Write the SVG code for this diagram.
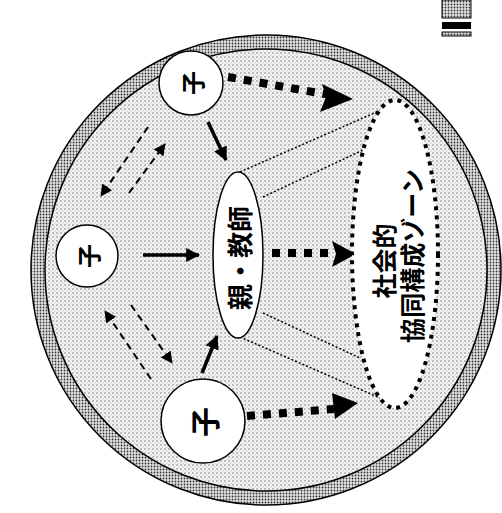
<svg xmlns="http://www.w3.org/2000/svg" width="502" height="513" viewBox="0 0 502 513">
<style>
.ctext{font-family:"Noto Sans CJK JP","Noto Sans CJK SC",sans-serif;font-weight:700;fill:#000;text-anchor:middle;dominant-baseline:central}
.thick{fill:none;stroke:#000;stroke-width:8;stroke-dasharray:8 8}
.solid{fill:none;stroke:#000;stroke-width:3.5}
.dash{fill:none;stroke:#000;stroke-width:2;stroke-dasharray:7 5}
.cone{fill:none;stroke:#000;stroke-width:1.5;stroke-dasharray:2 2}
.node{fill:#fff;stroke:#000;stroke-width:1.5}
</style>
<defs>
<pattern id="lightDots" width="4" height="4" patternUnits="userSpaceOnUse">
<rect width="4" height="4" fill="#f4f4f4"/>
<circle cx="1" cy="1" r="0.8" fill="#777"/>
<circle cx="3" cy="3" r="0.6" fill="#aaa"/>
</pattern>
<pattern id="darkDots" width="3" height="3" patternUnits="userSpaceOnUse">
<rect width="3" height="3" fill="#e2e2e2"/>
<circle cx="1.5" cy="1.5" r="0.9" fill="#333"/>
</pattern>
<marker id="solidHead" viewBox="0 0 12 12" refX="11" refY="6" markerWidth="14" markerHeight="14" markerUnits="userSpaceOnUse" orient="auto">
<path d="M0,0 L12,6 L0,12 Z" fill="#000"/>
</marker>
<marker id="dashHead" viewBox="0 0 12 12" refX="11" refY="6" markerWidth="12" markerHeight="12" markerUnits="userSpaceOnUse" orient="auto">
<path d="M0,0 L12,6 L0,12 Z" fill="#000"/>
</marker>
</defs>
<rect width="502" height="513" fill="#fff"/>
<g id="legend">
<rect x="442" y="0" width="29" height="18" fill="url(#darkDots)" stroke="#000" stroke-width="1"/>
<rect x="442" y="22" width="29" height="7" fill="#000"/>
<rect x="442" y="32" width="29" height="4" fill="url(#darkDots)" stroke="#000" stroke-width="1"/>
</g>
<g id="background">
<circle cx="266" cy="270" r="235" fill="url(#darkDots)" stroke="#000" stroke-width="1.5"/>
<circle cx="266" cy="270" r="221" fill="url(#lightDots)" stroke="#000" stroke-width="1.5"/>
</g>
<g id="connectors">
<line class="cone" x1="240" y1="172" x2="397" y2="103"/>
<line class="cone" x1="263" y1="197" x2="363" y2="150"/>
<line class="cone" x1="263" y1="313" x2="360" y2="358"/>
<line class="cone" x1="240" y1="337" x2="380" y2="398"/>
<line class="thick" x1="228" y1="77" x2="330" y2="95"/>
<path d="M322,84 L353,99 L320,112 L326,97 Z" fill="#000"/>
<line class="thick" x1="272" y1="253" x2="334" y2="253"/>
<path d="M332,241 L356,254 L332,267 L336,254 Z" fill="#000"/>
<line class="thick" x1="247" y1="416" x2="334" y2="409"/>
<path d="M332,393 L358,403 L335,419 Z" fill="#000"/>
<line class="solid" x1="208" y1="122" x2="226" y2="160" marker-end="url(#solidHead)"/>
<line class="solid" x1="143" y1="255" x2="199" y2="255" marker-end="url(#solidHead)"/>
<line class="solid" x1="202" y1="373" x2="217" y2="336" marker-end="url(#solidHead)"/>
<line class="dash" x1="148" y1="127" x2="101" y2="196" marker-end="url(#dashHead)"/>
<line class="dash" x1="129" y1="193" x2="165" y2="144" marker-end="url(#dashHead)"/>
<line class="dash" x1="151" y1="379" x2="105" y2="311" marker-end="url(#dashHead)"/>
<line class="dash" x1="131" y1="305" x2="172" y2="363" marker-end="url(#dashHead)"/>
</g>
<g id="zone">
<ellipse cx="395" cy="254" rx="43" ry="154" fill="#fff" stroke="#000" stroke-width="4" stroke-dasharray="4 5"/>
<text class="ctext" font-size="25" transform="translate(383,261) rotate(-90)">社会的</text>
<text class="ctext" font-size="25" transform="translate(411,256) rotate(-90)">協同構成ゾーン</text>
</g>
<g id="parent">
<ellipse cx="238" cy="255" rx="25" ry="83" class="node" stroke-width="2"/>
<text class="ctext" font-size="26" transform="translate(238,258) rotate(-90)">親・教師</text>
</g>
<g id="childTop">
<circle cx="191" cy="83" r="32" class="node"/>
<text class="ctext" font-size="24" transform="translate(191,83) rotate(-90)">子</text>
</g>
<g id="childLeft">
<circle cx="87" cy="256" r="31" class="node"/>
<text class="ctext" font-size="24" transform="translate(87,256) rotate(-90)">子</text>
</g>
<g id="childBottom">
<circle cx="203" cy="421" r="42" class="node" stroke-width="4"/>
<text class="ctext" font-size="30" transform="translate(203,422) rotate(-90)">子</text>
</g>
</svg>
